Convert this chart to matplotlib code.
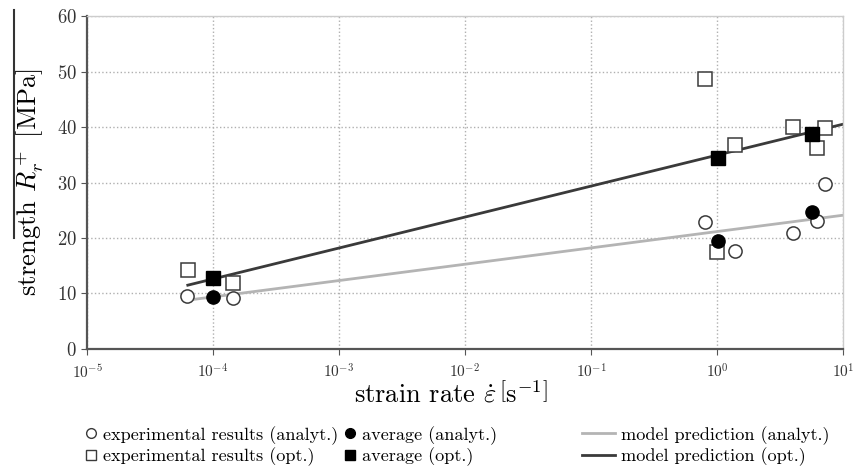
import numpy as np
import matplotlib
matplotlib.use('Agg')
import matplotlib.pyplot as plt
from matplotlib.lines import Line2D

plt.rcParams['font.family'] = ['cmr10', 'DejaVu Serif']
plt.rcParams['mathtext.fontset'] = 'cm'
plt.rcParams['axes.formatter.use_mathtext'] = True

# experimental results (analytical evaluation)
exp_an_x = [6.2e-5, 1.45e-4, 0.8, 1.39, 4.0, 6.2, 7.2]
exp_an_y = [9.5, 9.2, 22.9, 17.7, 20.9, 23.1, 29.7]
# experimental results (optical evaluation)
exp_opt_x = [6.3e-5, 1.45e-4, 0.8, 1.39, 1.0, 4.0, 7.2, 6.2]
exp_opt_y = [14.2, 11.9, 48.6, 36.8, 17.5, 40.0, 39.8, 36.2]
# averages
avg_x = [1e-4, 1.02, 5.7]
avg_an_y = [9.4, 19.5, 24.7]
avg_opt_y = [12.8, 34.4, 38.7]
# model predictions (straight in log strain rate)
model_x = [6.3e-5, 10]
model_an_y = [8.8, 24.1]
model_opt_y = [11.5, 40.5]

dark = '#3a3a3a'
light = '#b4b4b4'

fig = plt.figure(figsize=(8.54, 4.67), dpi=100)
ax = fig.add_axes([0.102, 0.2527, 0.885, 0.713])

ax.plot(model_x, model_an_y, color=light, lw=2, zorder=2)
ax.plot(model_x, model_opt_y, color=dark, lw=2, zorder=2)
ax.plot(exp_an_x, exp_an_y, 'o', ms=9.5, mfc='white', mec=dark, mew=1.1, zorder=3)
ax.plot(exp_opt_x, exp_opt_y, 's', ms=10, mfc='white', mec=dark, mew=1.1, zorder=3)
ax.plot(avg_x, avg_an_y, 'o', ms=9.5, mfc='black', mec='black', zorder=4)
ax.plot(avg_x, avg_opt_y, 's', ms=10, mfc='black', mec='black', zorder=4)

ax.set_xscale('log')
ax.set_xlim(1e-5, 10)
ax.set_ylim(0, 60)
ax.set_xticks([1e-5, 1e-4, 1e-3, 1e-2, 1e-1, 1e0, 1e1])
ax.minorticks_off()
ax.set_yticks(range(0, 61, 10))
ax.grid(True, ls=':', color='#b0b0b0', lw=1)
ax.set_axisbelow(True)
ax.tick_params(axis='both', labelsize=13.5, colors='#555555', labelcolor='#333333', length=4)
ax.tick_params(axis='x', labelsize=11, pad=6)

for s in ['left', 'bottom']:
    ax.spines[s].set_color('#555555')
    ax.spines[s].set_linewidth(1.6)
for s in ['top', 'right']:
    ax.spines[s].set_color('#cccccc')
    ax.spines[s].set_linewidth(1)

ax.set_xlabel(r'strain rate $\dot{\varepsilon}\,\left[\mathrm{s}^{-1}\right]$', fontsize=19, labelpad=3)
ax.xaxis.set_label_coords(0.482, -0.095)
ax.set_ylabel(r'strength $R_r^+$ [MPa]', fontsize=19, labelpad=8)
fig.add_artist(Line2D([14 / 854, 14 / 854], [1 - 10 / 467, 1 - 238 / 467], color='#333333', lw=1.5))

handles = [
    Line2D([], [], ls='', marker='o', ms=7, mfc='white', mec=dark),
    Line2D([], [], ls='', marker='s', ms=7, mfc='white', mec=dark),
    Line2D([], [], ls='', marker='o', ms=7, mfc='black', mec='black'),
    Line2D([], [], ls='', marker='s', ms=7, mfc='black', mec='black'),
    Line2D([], [], color=light, lw=2),
    Line2D([], [], color=dark, lw=2),
]
labels = ['experimental results (analyt.)', 'experimental results (opt.)',
          'average (analyt.)', 'average (opt.)',
          'model prediction (analyt.)', 'model prediction (opt.)']
col_x = [86 / 854, 345 / 854, 582 / 854]
col_hl = [0.6, 0.6, 1.8]
for i in range(3):
    fig.legend(handles[2 * i:2 * i + 2], labels[2 * i:2 * i + 2], loc='upper left',
               bbox_to_anchor=(col_x[i], 1 - 426 / 467), frameon=False, fontsize=13.1,
               handlelength=col_hl[i], handletextpad=0.35, borderpad=0, borderaxespad=0,
               labelspacing=0.15)

fig.savefig('out.png', dpi=100)
